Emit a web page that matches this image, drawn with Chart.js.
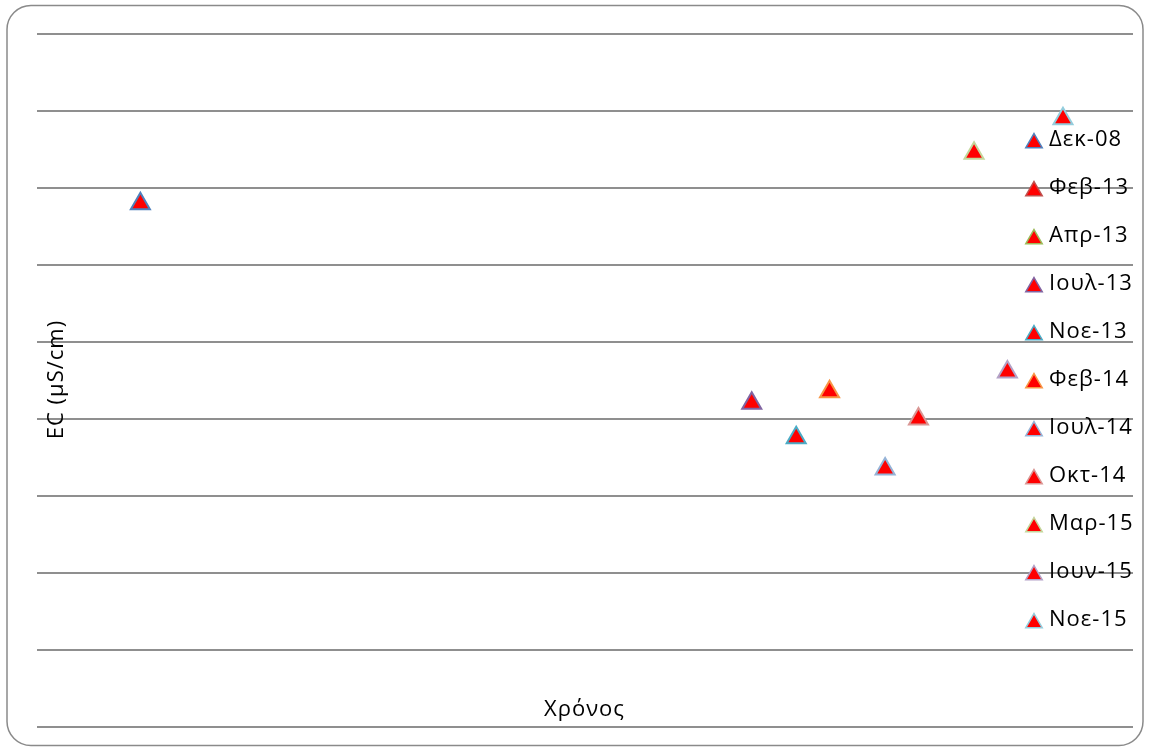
<!DOCTYPE html>
<html>
<head>
<meta charset="utf-8">
<script src="https://cdn.jsdelivr.net/npm/chart.js@4.4.1/dist/chart.umd.min.js"></script>
<style>
  html, body { margin: 0; padding: 0; background: #ffffff; }
  #wrap { width: 1150px; height: 751px; }
</style>
</head>
<body>
<div id="wrap"><canvas id="ecChart" width="1150" height="751"></canvas></div>
<script>
// Sampling campaigns (legend labels) and their dates
const sampleLabels = ['Δεκ-08', 'Φεβ-13', 'Απρ-13', 'Ιουλ-13', 'Νοε-13', 'Φεβ-14', 'Ιουλ-14', 'Οκτ-14', 'Μαρ-15', 'Ιουν-15', 'Νοε-15'];
const sampleDates  = ['2008-12', '2013-02', '2013-04', '2013-07', '2013-11', '2014-02', '2014-07', '2014-10', '2015-03', '2015-06', '2015-11'];
// Electrical conductivity, μS/cm (no measurement for two campaigns)
const ecValues     = [1359, null, null, 841, 751, 871, 670, 800, 1490, 922, 1580];
// Value axis range and gridline step
const yRange = [0, 1800];
const yStep  = 200;
// Time axis range, in months around the first and last campaign
const xPadMonths = [9.3, 6.3];

const markerBorders = ['#4F81BD', '#C0504D', '#9BBB59', '#8064A2', '#4BACC6', '#F79646',
                       '#95B3D7', '#D99694', '#C3D69B', '#B3A2C7', '#93CDDD'];
const markerFill = '#FF0000';
const FONT = '"Open Sans", "Noto Sans", sans-serif';
const LETTER_SPACING = 1;

function monthIndex(s) {
  const [y, m] = s.split('-').map(Number);
  return y * 12 + (m - 1);
}

const datasets = sampleLabels.map((label, i) => ({
  label,
  data: ecValues[i] == null ? [] : [{ x: monthIndex(sampleDates[i]), y: ecValues[i] }],
  pointStyle: 'triangle',
  pointRadius: 11,
  pointHoverRadius: 11,
  pointBorderWidth: 2,
  pointBackgroundColor: markerFill,
  pointBorderColor: markerBorders[i],
  showLine: false
}));

// Rounded outer frame of the chart
const framePlugin = {
  id: 'frame',
  beforeDraw(chart) {
    const ctx = chart.ctx;
    const x = 7, y = 5.5, w = chart.width - 14, h = chart.height - 11, r = 24;
    ctx.save();
    ctx.fillStyle = '#ffffff';
    ctx.fillRect(0, 0, chart.width, chart.height);
    ctx.beginPath();
    ctx.moveTo(x + r, y);
    ctx.lineTo(x + w - r, y);
    ctx.arcTo(x + w, y, x + w, y + r, r);
    ctx.lineTo(x + w, y + h - r);
    ctx.arcTo(x + w, y + h, x + w - r, y + h, r);
    ctx.lineTo(x + r, y + h);
    ctx.arcTo(x, y + h, x, y + h - r, r);
    ctx.lineTo(x, y + r);
    ctx.arcTo(x, y, x + r, y, r);
    ctx.closePath();
    ctx.lineWidth = 1.5;
    ctx.strokeStyle = '#8a8a8a';
    ctx.stroke();
    ctx.restore();
  }
};

// Axis titles and the series legend, laid over the plot area
const overlayPlugin = {
  id: 'overlay',
  afterDatasetsDraw(chart) {
    const ctx = chart.ctx;
    const a = chart.chartArea;
    ctx.save();
    ctx.fillStyle = '#000000';
    ctx.font = '22px ' + FONT;
    if ('letterSpacing' in ctx) ctx.letterSpacing = LETTER_SPACING + 'px';

    // value axis title
    ctx.save();
    ctx.translate(a.left + 20, 379 + LETTER_SPACING / 2);
    ctx.rotate(-Math.PI / 2);
    ctx.textAlign = 'center';
    ctx.textBaseline = 'middle';
    ctx.fillText('EC (μS/cm)', 0, 0);
    ctx.restore();

    // time axis title
    ctx.textAlign = 'center';
    ctx.textBaseline = 'alphabetic';
    ctx.fillText('Χρόνος', (a.left + a.right) / 2 - 1 + LETTER_SPACING / 2, a.bottom - 11);

    // legend
    const markerX = a.right - 99;
    const firstRow = a.top + 106;
    const rowGap = 48;
    chart.data.datasets.forEach((ds, i) => {
      const yRow = firstRow + i * rowGap;
      ctx.fillStyle = ds.pointBackgroundColor;
      ctx.strokeStyle = ds.pointBorderColor;
      ctx.lineWidth = 1.5;
      Chart.helpers.drawPoint(ctx, { pointStyle: 'triangle', radius: 9.5, borderWidth: 1.5, rotation: 0 },
                              markerX, yRow + 3);
      ctx.fillStyle = '#000000';
      ctx.textAlign = 'left';
      ctx.textBaseline = 'middle';
      ctx.fillText(ds.label, markerX + 15, yRow);
    });
    ctx.restore();
  }
};

const firstMonth = monthIndex(sampleDates[0]);
const lastMonth = monthIndex(sampleDates[sampleDates.length - 1]);

new Chart(document.getElementById('ecChart'), {
  type: 'scatter',
  data: { datasets },
  options: {
    responsive: false,
    animation: false,
    layout: { padding: { left: 37, right: 17, top: 34, bottom: 24 } },
    plugins: {
      legend: { display: false },
      tooltip: { enabled: false },
      title: { display: false }
    },
    scales: {
      x: {
        type: 'linear',
        display: false,
        min: firstMonth - xPadMonths[0],
        max: lastMonth + xPadMonths[1]
      },
      y: {
        type: 'linear',
        min: yRange[0],
        max: yRange[1],
        ticks: { display: false, stepSize: yStep },
        border: { display: false },
        grid: { color: '#8f8f8f', lineWidth: 2, drawTicks: false }
      }
    }
  },
  plugins: [framePlugin, overlayPlugin]
});
</script>
</body>
</html>
